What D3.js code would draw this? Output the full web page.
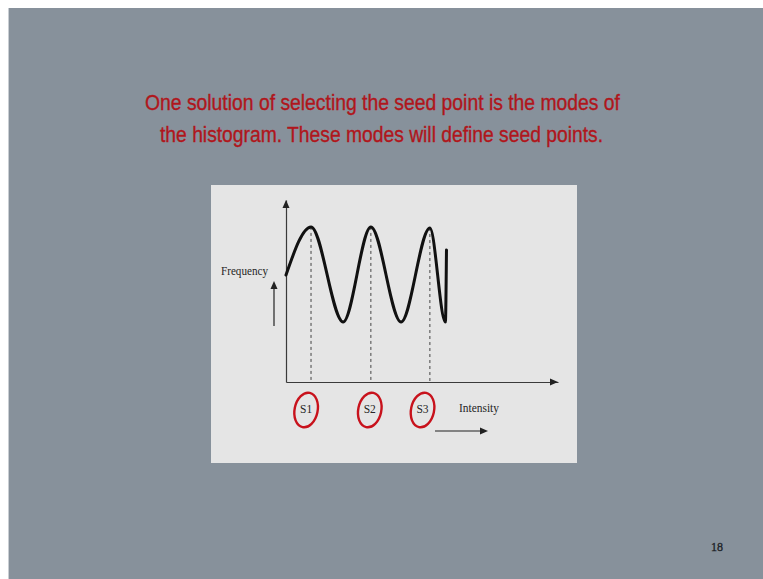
<!DOCTYPE html>
<html>
<head>
<meta charset="utf-8">
<script src="https://cdn.jsdelivr.net/npm/d3@7/dist/d3.min.js"></script>
<style>
  html, body { margin: 0; padding: 0; background: #ffffff; }
  svg { display: block; }
</style>
</head>
<body>
<svg id="slide" width="763" height="579"></svg>
<script>
// Slide text
const titleLines = [
  "One solution of selecting the seed point is the modes of",
  "the histogram. These modes will define seed points."
];
const pageNumber = "18";

// Histogram outline: intensity (0-100) vs frequency (0-100)
const intensity = [0, 9.2, 21, 31.2, 42.3, 52.9, 58.6, 59];
const frequency = [58.8, 85.2, 33, 85.2, 33, 84.6, 33, 72.5];

// Modes (seed points) and where their circled labels sit
const seedNames = ["S1", "S2", "S3"];
const seedIntensity = [9.2, 31.2, 52.9];
const seedLabelIntensity = [7.4, 30.8, 50.2];

const axisLabels = { x: "Intensity", y: "Frequency" };

const svg = d3.select("#slide");

// slide background
svg.append("rect").attr("x", 8).attr("y", 8).attr("width", 755).attr("height", 571)
  .attr("fill", "#87919b");
svg.append("line").attr("x1", 8.5).attr("x2", 8.5).attr("y1", 8).attr("y2", 579)
  .attr("stroke", "#c9ced3").attr("stroke-width", 1);

// title
const titleBox = [{ x0: 145, x1: 620, y: 110 }, { x0: 160, x1: 603, y: 142 }];
svg.selectAll("text.title").data(titleLines).join("text")
  .attr("class", "title")
  .attr("x", (d, i) => titleBox[i].x0)
  .attr("y", (d, i) => titleBox[i].y)
  .attr("textLength", (d, i) => titleBox[i].x1 - titleBox[i].x0)
  .attr("lengthAdjust", "spacingAndGlyphs")
  .attr("font-family", "Liberation Sans, Arial, sans-serif")
  .attr("font-size", 22)
  .attr("fill", "#b0161c")
  .attr("stroke", "#b0161c")
  .attr("stroke-width", 0.35)
  .text(d => d);

// figure panel
svg.append("rect").attr("x", 211).attr("y", 185).attr("width", 366).attr("height", 278)
  .attr("fill", "#e5e5e5");

const x = d3.scaleLinear().domain([0, 100]).range([286, 558]);
const y = d3.scaleLinear().domain([0, 100]).range([382, 200]);

const ink = "#3a3a3a";

// x axis
const gx = svg.append("g").attr("transform", `translate(0,${y(0)})`)
  .call(d3.axisBottom(x).tickValues([]).tickSizeOuter(0));
gx.select(".domain").attr("stroke", ink).attr("stroke-width", 1.2);

// y axis
const gy = svg.append("g").attr("transform", `translate(${x(0)},0)`)
  .call(d3.axisLeft(y).tickValues([]).tickSizeOuter(0));
gy.select(".domain").attr("stroke", ink).attr("stroke-width", 1.2);

function arrowHead(tx, ty, dir) {
  // dir: "right" or "up"
  const p = dir === "right"
    ? [[tx, ty], [tx - 8, ty - 3.5], [tx - 8, ty + 3.5]]
    : [[tx, ty], [tx - 3.5, ty + 8], [tx + 3.5, ty + 8]];
  svg.append("path").attr("d", d3.line()(p) + "Z").attr("fill", "#222");
}
arrowHead(x(100), y(0), "right");
arrowHead(x(0), y(100), "up");

// dashed drop lines at the modes
svg.selectAll("line.mode").data(seedIntensity).join("line")
  .attr("class", "mode")
  .attr("x1", d => x(d)).attr("x2", d => x(d))
  .attr("y1", d => y(frequency[intensity.indexOf(d)]))
  .attr("y2", y(0))
  .attr("stroke", "#444").attr("stroke-width", 1)
  .attr("stroke-dasharray", "3,3");

// histogram curve
const pts = intensity.map((v, i) => [v, frequency[i]]);
const wave = d3.line().x(d => x(d[0])).y(d => y(d[1])).curve(d3.curveMonotoneX);
svg.append("path")
  .attr("d", wave(pts))
  .attr("fill", "none")
  .attr("stroke", "#111")
  .attr("stroke-width", 3)
  .attr("stroke-linejoin", "round")
  .attr("stroke-linecap", "round");

// seed labels
const labelY = 413;
svg.selectAll("text.seed").data(seedNames).join("text")
  .attr("class", "seed")
  .attr("x", (d, i) => x(seedLabelIntensity[i]))
  .attr("y", labelY)
  .attr("text-anchor", "middle")
  .attr("font-family", "Liberation Serif, Times New Roman, serif")
  .attr("font-size", 11.5)
  .attr("fill", "#262626")
  .text(d => d);

// hand-drawn red rings round the labels
svg.selectAll("ellipse.ring").data(seedNames).join("ellipse")
  .attr("class", "ring")
  .attr("cx", (d, i) => x(seedLabelIntensity[i]))
  .attr("cy", labelY - 3)
  .attr("rx", 11.5)
  .attr("ry", 17.5)
  .attr("transform", (d, i) => `rotate(12,${x(seedLabelIntensity[i])},${labelY - 3})`)
  .attr("fill", "none")
  .attr("stroke", "#c8121c")
  .attr("stroke-width", 2.4);

// axis captions
svg.append("text").attr("x", 459).attr("y", 412)
  .attr("font-family", "Liberation Serif, Times New Roman, serif")
  .attr("font-size", 11.5).attr("fill", "#262626")
  .attr("textLength", 40).attr("lengthAdjust", "spacingAndGlyphs")
  .text(axisLabels.x);
svg.append("line").attr("x1", 435).attr("x2", 483).attr("y1", 431).attr("y2", 431)
  .attr("stroke", "#222").attr("stroke-width", 1.2);
arrowHead(488, 431, "right");

svg.append("text").attr("x", 221).attr("y", 275)
  .attr("font-family", "Liberation Serif, Times New Roman, serif")
  .attr("font-size", 11.5).attr("fill", "#262626")
  .attr("textLength", 47).attr("lengthAdjust", "spacingAndGlyphs")
  .text(axisLabels.y);
svg.append("line").attr("x1", 274).attr("x2", 274).attr("y1", 326).attr("y2", 287)
  .attr("stroke", "#222").attr("stroke-width", 1.2);
arrowHead(274, 281, "up");

// page number
svg.append("text").attr("x", 717).attr("y", 551)
  .attr("text-anchor", "middle")
  .attr("font-family", "Liberation Serif, Times New Roman, serif")
  .attr("font-size", 12).attr("fill", "#1e2328")
  .attr("stroke", "#1e2328").attr("stroke-width", 0.3)
  .text(pageNumber);
</script>
</body>
</html>
